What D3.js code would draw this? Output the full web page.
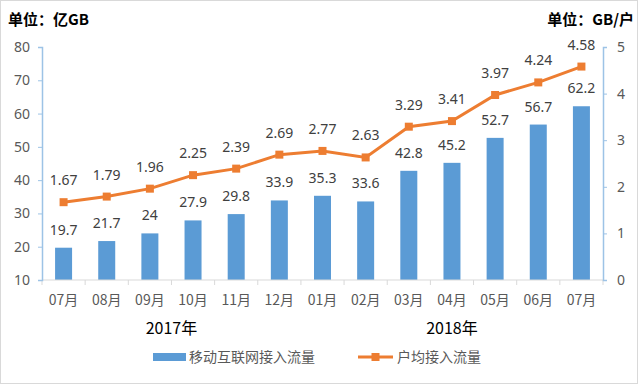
<!DOCTYPE html>
<html>
<head>
<meta charset="utf-8">
<script src="https://cdn.jsdelivr.net/npm/d3@7"></script>
<style>
  body { margin: 0; background: #fff; }
  text { font-family: "Noto Sans CJK SC", "Noto Sans", sans-serif; }
</style>
</head>
<body>
<div id="chart"></div>
<script>
// data
var months = ['07月','08月','09月','10月','11月','12月','01月','02月','03月','04月','05月','06月','07月'];
var traffic = [19.7, 21.7, 24, 27.9, 29.8, 33.9, 35.3, 33.6, 42.8, 45.2, 52.7, 56.7, 62.2];
var perUser = [1.67, 1.79, 1.96, 2.25, 2.39, 2.69, 2.77, 2.63, 3.29, 3.41, 3.97, 4.24, 4.58];
var years = [{ label: '2017年', from: 0, to: 5 }, { label: '2018年', from: 6, to: 12 }];
var leftTicks = [10, 20, 30, 40, 50, 60, 70, 80];
var rightTicks = [0, 1, 2, 3, 4, 5];

var width = 640, height = 386;
var plotL = 42, plotR = 603, plotT = 47, plotB = 280;
var blue = '#5b9bd5', orange = '#ed7d31';

var svg = d3.select('#chart').append('svg')
  .attr('width', width)
  .attr('height', height);

svg.append('rect')
  .attr('x', 0.5).attr('y', 0.5)
  .attr('width', width - 3).attr('height', height - 3)
  .attr('fill', '#fff')
  .attr('stroke', '#d9d9d9');

var x = d3.scaleBand().domain(d3.range(months.length)).range([plotL, plotR]);
var yL = d3.scaleLinear().domain([10, 80]).range([plotB, plotT]);
var yR = d3.scaleLinear().domain([0, 5]).range([plotB, plotT]);
var cx = i => x(i) + x.bandwidth() / 2;

// bars
var barW = 17;
svg.append('g').selectAll('rect')
  .data(traffic).enter()
  .append('rect')
  .attr('x', (d, i) => cx(i) - barW / 2)
  .attr('y', d => yL(d))
  .attr('width', barW)
  .attr('height', d => plotB - yL(d))
  .attr('fill', blue);

// x axis
var xAxis = svg.append('g').attr('transform', 'translate(0,' + plotB + ')');
xAxis.append('line')
  .attr('x1', plotL).attr('x2', plotR)
  .attr('stroke', '#d9d9d9');
xAxis.selectAll('.tk')
  .data(d3.range(months.length + 1)).enter()
  .append('line')
  .attr('x1', i => plotL + i * x.step()).attr('x2', i => plotL + i * x.step())
  .attr('y1', 0).attr('y2', 5)
  .attr('stroke', '#d9d9d9');
xAxis.selectAll('.lb')
  .data(months).enter()
  .append('text')
  .attr('x', (d, i) => cx(i))
  .attr('y', 25)
  .attr('text-anchor', 'middle')
  .attr('font-size', 14)
  .attr('fill', '#595959')
  .text(d => d);

svg.selectAll('.year')
  .data(years).enter()
  .append('text')
  .attr('x', d => (x(d.from) + x(d.to) + x.bandwidth()) / 2)
  .attr('y', 334)
  .attr('text-anchor', 'middle')
  .attr('font-size', 16)
  .attr('fill', '#000')
  .text(d => d.label);

// left axis
var gl = svg.append('g')
  .attr('transform', 'translate(' + plotL + ',0)')
  .call(d3.axisLeft(yL).tickValues(leftTicks).tickSize(4).tickPadding(8));
gl.select('.domain').attr('stroke', '#9dc3e6').attr('stroke-width', 1.5);
gl.selectAll('.tick line').attr('stroke', '#9dc3e6');
gl.selectAll('.tick text').attr('font-size', 14).attr('fill', '#595959')
  .style('font-family', '"Noto Sans", sans-serif');

// right axis
var gr = svg.append('g')
  .attr('transform', 'translate(' + plotR + ',0)')
  .call(d3.axisRight(yR).tickValues(rightTicks).tickFormat(d3.format('d')).tickSize(4).tickPadding(10));
gr.select('.domain').attr('stroke', '#9dc3e6').attr('stroke-width', 1.5);
gr.selectAll('.tick line').attr('stroke', '#9dc3e6');
gr.selectAll('.tick text').attr('font-size', 14).attr('fill', '#595959')
  .style('font-family', '"Noto Sans", sans-serif');

// line
var line = d3.line()
  .x((d, i) => cx(i))
  .y(d => yR(d));
svg.append('path')
  .datum(perUser)
  .attr('d', line)
  .attr('fill', 'none')
  .attr('stroke', orange)
  .attr('stroke-width', 3);
svg.append('g').selectAll('rect')
  .data(perUser).enter()
  .append('rect')
  .attr('x', (d, i) => cx(i) - 4)
  .attr('y', d => yR(d) - 4)
  .attr('width', 8).attr('height', 8)
  .attr('fill', orange);

// value labels
svg.append('g').selectAll('text')
  .data(traffic).enter()
  .append('text')
  .attr('x', (d, i) => cx(i))
  .attr('y', d => yL(d) - 13)
  .attr('text-anchor', 'middle')
  .attr('font-size', 14)
  .attr('fill', '#404040')
  .style('font-family', '"Noto Sans", sans-serif')
  .text(d => d);
svg.append('g').selectAll('text')
  .data(perUser).enter()
  .append('text')
  .attr('x', (d, i) => cx(i))
  .attr('y', d => yR(d) - 17)
  .attr('text-anchor', 'middle')
  .attr('font-size', 14)
  .attr('fill', '#404040')
  .style('font-family', '"Noto Sans", sans-serif')
  .text(d => d.toFixed(2));

// unit titles
svg.append('text')
  .attr('x', 8).attr('y', 25)
  .attr('font-size', 15).attr('font-weight', 'bold')
  .text('单位：亿GB');
svg.append('text')
  .attr('x', 634).attr('y', 25)
  .attr('text-anchor', 'end')
  .attr('font-size', 15).attr('font-weight', 'bold')
  .text('单位：GB/户');

// legend
var lg = svg.append('g').attr('transform', 'translate(0,357)');
lg.append('rect')
  .attr('x', 153).attr('y', -4).attr('width', 33).attr('height', 8)
  .attr('fill', blue);
lg.append('text')
  .attr('x', 189).attr('y', 5)
  .attr('font-size', 14).attr('fill', '#595959')
  .text('移动互联网接入流量');
lg.append('line')
  .attr('x1', 358).attr('x2', 393)
  .attr('stroke', orange).attr('stroke-width', 3);
lg.append('rect')
  .attr('x', 371.5).attr('y', -4).attr('width', 8).attr('height', 8)
  .attr('fill', orange);
lg.append('text')
  .attr('x', 397).attr('y', 5)
  .attr('font-size', 14).attr('fill', '#595959')
  .text('户均接入流量');
</script>
</body>
</html>
